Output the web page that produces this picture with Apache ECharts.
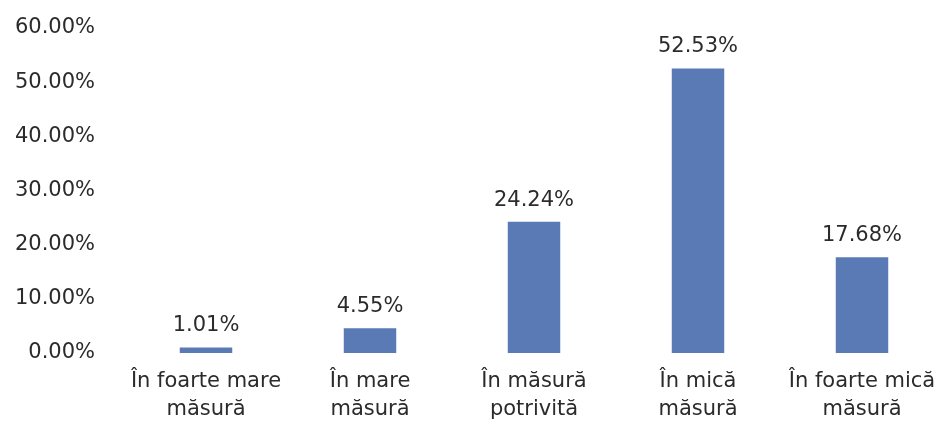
<!DOCTYPE html>
<html><head><meta charset="utf-8">
<script src="https://cdn.jsdelivr.net/npm/echarts@6/dist/echarts.min.js"></script>
<style>html,body{margin:0;padding:0;background:#fff;}#c{width:945px;height:434px;}</style>
</head><body><div id="c"></div>
<script>
const categories = ["În foarte mare\nmăsură", "În mare\nmăsură", "În măsură\npotrivită", "În mică\nmăsură", "În foarte mică\nmăsură"];
const values = [1.01, 4.55, 24.24, 52.53, 17.68];
const yTicks = [0, 10, 20, 30, 40, 50, 60];

const chart = echarts.init(document.getElementById('c'));
const font = "'DejaVu Sans', sans-serif";
const txt = '#2b2b2b';
chart.setOption({
  animation: false,
  grid: {left: 124, right: 1, top: 28, bottom: 81, containLabel: false},
  xAxis: {
    type: 'category', data: categories,
    axisLine: {show: false}, axisTick: {show: false},
    axisLabel: {color: txt, fontSize: 21, fontFamily: font, margin: 15, lineHeight: 28, interval: 0}
  },
  yAxis: {
    type: 'value', min: yTicks[0], max: yTicks[yTicks.length-1], interval: 10,
    splitLine: {show: false}, axisLine: {show: false}, axisTick: {show: false},
    axisLabel: {color: txt, fontSize: 21, fontFamily: font, margin: 29,
      formatter: v => v.toFixed(2) + '%'}
  },
  series: [{
    type: 'bar', data: values, barWidth: '32%',
    itemStyle: {color: '#5a7ab5'},
    label: {show: true, position: 'top', distance: 11, color: txt, fontSize: 21, fontFamily: font,
      formatter: p => p.value.toFixed(2) + '%'}
  }]
});
</script></body></html>
